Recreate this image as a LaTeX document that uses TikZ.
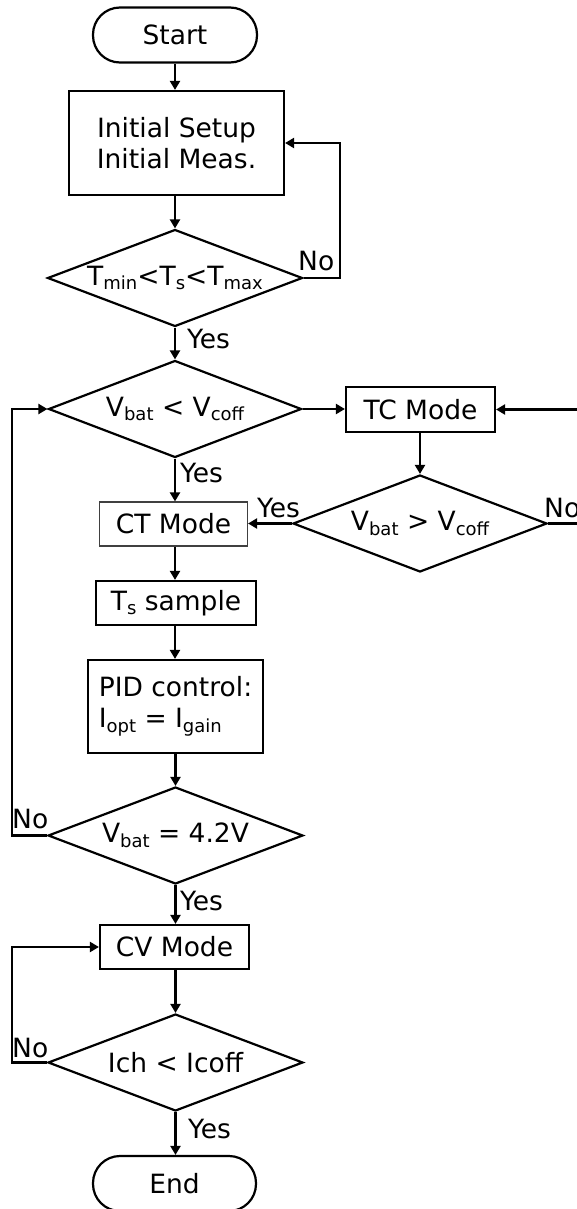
\documentclass[tikz,border=0pt]{standalone}
\usepackage{fontspec}
\setmainfont{DejaVu Sans}
\usetikzlibrary{shapes.geometric,arrows.meta}
% lowered, smaller subscript text
\newcommand\lowsub[1]{\raisebox{-4.5pt}{\fontsize{18}{18}\selectfont #1}}

\begin{document}
\begin{tikzpicture}[x=1pt,y=-1pt,
  every node/.style={font=\fontsize{26.5}{31}\selectfont, inner sep=0pt},
  procbox/.style={draw, line width=2.2pt, align=center},
  thinbox/.style={draw=black!75, line width=1.2pt, align=center},
  terminal/.style={draw, line width=2.2pt, rounded corners=27pt,
                   minimum width=164pt, minimum height=55pt},
  decision/.style={draw, line width=2.2pt, diamond, aspect=2.65,
                   minimum width=255pt, minimum height=97pt},
  flow/.style={line width=2.2pt, -{Triangle[length=9pt,width=10pt]}},
  tag/.style={anchor=base west}
]
\useasboundingbox (0,0) rectangle (577,1209);
\clip (0,0) rectangle (577,1209);

% main column
\node[terminal] (start) at (175,35) {Start};
\node[procbox, minimum width=215pt, minimum height=104pt] (init) at (176.5,143)
  {Initial Setup\\Initial Meas.};
\node[decision] (d1) at (175,278) {T\lowsub{min}<T\lowsub{s}<T\lowsub{max}};
\node[decision, minimum width=253pt] (d2) at (175,409) {V\lowsub{bat} < V\lowsub{coff}};
\node[thinbox, minimum width=148pt, minimum height=44pt] (ct) at (173.5,524) {CT Mode};
\node[procbox, minimum width=160pt, minimum height=44pt] (ts) at (176,603) {T\lowsub{s} sample};
\node[procbox, align=left, minimum width=175pt, minimum height=93pt] (pid) at (175.5,706.5)
  {PID control:\\I\lowsub{opt} = I\lowsub{gain}};
\node[decision] (d4) at (175.5,835.5) {V\lowsub{bat} = 4.2V};
\node[procbox, minimum width=149pt, minimum height=44pt] (cv) at (174.5,947) {CV Mode};
\node[decision] (d5) at (175.5,1062.5) {Ich < Icoff};
\node[terminal, minimum width=163pt] (end) at (174.5,1183.5) {End};

% side branch
\node[procbox, minimum width=149pt, minimum height=45pt] (tc) at (420.5,409.5) {TC Mode};
\node[decision, minimum width=254pt] (d3) at (420,523.5) {V\lowsub{bat} > V\lowsub{coff}};

% corner points of the loops
\coordinate (c1) at (340,278);
\coordinate (c3) at (595,523.5);
\coordinate (c4) at (12,835.5);
\coordinate (c5) at (12,1062.5);

% vertical flow, kept on the column line of the source node
\draw[flow] (start.south) -- (start.south |- init.north);
\draw[flow] (init.south -| d1.north) -- (d1.north);
\draw[flow] (d1.south) -- (d1.south |- d2.north);
\draw[flow] (d2.south) -- (d2.south |- ct.north);
\draw[flow] (ct.south -| d2.south) -- (d2.south |- ts.north);
\draw[flow] (ts.south -| d2.south) -- (d2.south |- pid.north);
\draw[flow] (pid.south -| d4.north) -- (d4.north);
\draw[flow] (d4.south) -- (d4.south |- cv.north);
\draw[flow] (cv.south -| d5.north) -- (d5.north);
\draw[flow] (d5.south) -- (d5.south |- end.north);
\draw[flow] (tc.south -| d3.north) -- (d3.north);

% horizontal flow
\draw[flow] (d2.east) -- (d2.east -| tc.west);
\draw[flow] (d3.west) -- (d3.west -| ct.east);

% loops
\draw[flow] (d1.east) -- (c1) |- (init.east);
\draw[flow] (d3.east) -- (c3) |- (tc.east);
\draw[flow] (d4.west) -- (c4) |- (d2.west);
\draw[flow] (d5.west) -- (c5) |- (cv.west);

% branch labels
\node[tag] (no1) at (298,270) {No};
\node[tag] (yes1) at (187,348) {Yes};
\node[tag] (yes2) at (180,482) {Yes};
\node[tag] (yes3) at (257,517) {Yes};
\node[tag] (no3) at (544,517) {No};
\node[tag] (no4) at (12,828) {No};
\node[tag] (yes4) at (180,910) {Yes};
\node[tag] (no5) at (12,1057) {No};
\node[tag] (yes5) at (188,1138) {Yes};
\end{tikzpicture}
\end{document}
